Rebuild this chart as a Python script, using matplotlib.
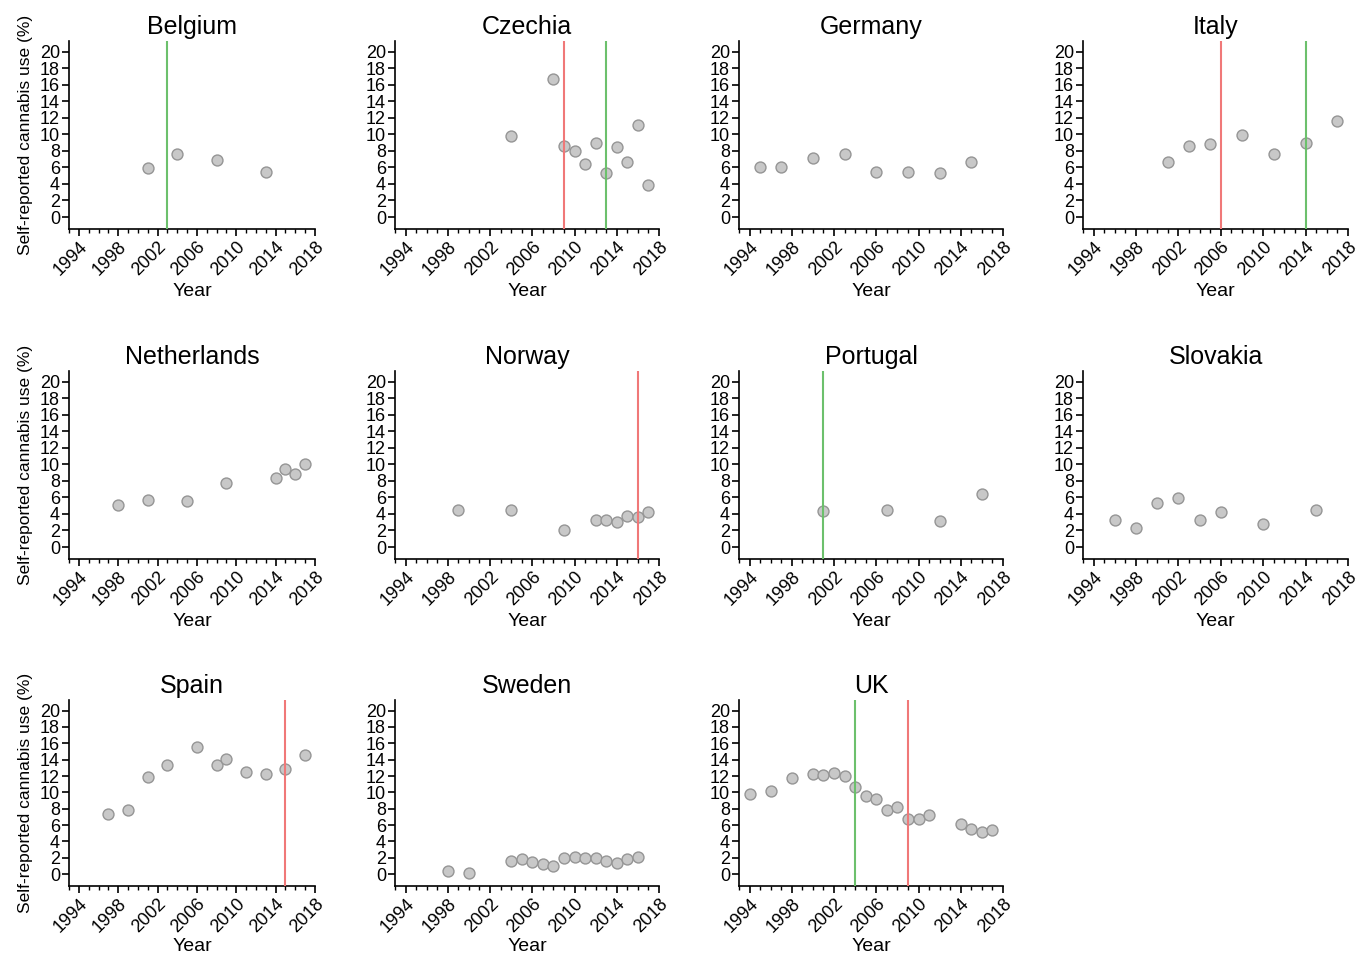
import matplotlib
matplotlib.use("Agg")
import matplotlib.pyplot as plt
from matplotlib.ticker import MultipleLocator

plt.rcParams['font.family'] = ['Liberation Sans', 'DejaVu Sans']

countries = ["Belgium", "Czechia", "Germany", "Italy",
             "Netherlands", "Norway", "Portugal", "Slovakia",
             "Spain", "Sweden", "UK"]

belgium_years = [2001, 2004, 2008, 2013]
belgium_vals = [5.9, 7.6, 6.9, 5.5]

czechia_years = [2004, 2008, 2009, 2010, 2011, 2012, 2013, 2014, 2015, 2016, 2017]
czechia_vals = [9.8, 16.7, 8.6, 8.0, 6.4, 8.9, 5.3, 8.5, 6.7, 11.1, 3.9]

germany_years = [1995, 1997, 2000, 2003, 2006, 2009, 2012, 2015]
germany_vals = [6.1, 6.0, 7.2, 7.6, 5.5, 5.4, 5.3, 6.7]

italy_years = [2001, 2003, 2005, 2008, 2011, 2014, 2017]
italy_vals = [6.6, 8.6, 8.8, 9.9, 7.6, 8.9, 11.6]

netherlands_years = [1998, 2001, 2005, 2009, 2014, 2015, 2016, 2017]
netherlands_vals = [5.1, 5.7, 5.6, 7.8, 8.4, 9.4, 8.8, 10.0]

norway_years = [1999, 2004, 2009, 2012, 2013, 2014, 2015, 2016, 2017]
norway_vals = [4.5, 4.5, 2.1, 3.3, 3.3, 3.0, 3.8, 3.6, 4.2]

portugal_years = [2001, 2007, 2012, 2016]
portugal_vals = [4.4, 4.5, 3.1, 6.4]

slovakia_years = [1996, 1998, 2000, 2002, 2004, 2006, 2010, 2015]
slovakia_vals = [3.3, 2.3, 5.3, 5.9, 3.3, 4.2, 2.8, 4.5]

spain_years = [1997, 1999, 2001, 2003, 2006, 2008, 2009, 2011, 2013, 2015, 2017]
spain_vals = [7.3, 7.9, 11.9, 13.4, 15.5, 13.4, 14.1, 12.5, 12.2, 12.9, 14.6]

sweden_years = [1998, 2000, 2004, 2005, 2006, 2007, 2008, 2009, 2010, 2011, 2012, 2013, 2014, 2015, 2016]
sweden_vals = [0.4, 0.1, 1.6, 1.8, 1.5, 1.3, 1.0, 2.0, 2.1, 2.0, 2.0, 1.6, 1.4, 1.8, 2.1]

uk_years = [1994, 1996, 1998, 2000, 2001, 2002, 2003, 2004, 2005, 2006, 2007, 2008,
            2009, 2010, 2011, 2014, 2015, 2016, 2017]
uk_vals = [9.8, 10.2, 11.7, 12.3, 12.1, 12.4, 12.0, 10.6, 9.6, 9.2, 7.8, 8.2,
           6.8, 6.8, 7.2, 6.1, 5.5, 5.2, 5.4]

# policy lines: green / red
green_lines = {"Belgium": [2003], "Czechia": [2013], "Italy": [2014],
               "Portugal": [2001], "UK": [2004]}
red_lines = {"Czechia": [2009], "Italy": [2006], "Norway": [2016],
             "Spain": [2015], "UK": [2009]}

data = {
    "Belgium": (belgium_years, belgium_vals),
    "Czechia": (czechia_years, czechia_vals),
    "Germany": (germany_years, germany_vals),
    "Italy": (italy_years, italy_vals),
    "Netherlands": (netherlands_years, netherlands_vals),
    "Norway": (norway_years, norway_vals),
    "Portugal": (portugal_years, portugal_vals),
    "Slovakia": (slovakia_years, slovakia_vals),
    "Spain": (spain_years, spain_vals),
    "Sweden": (sweden_years, sweden_vals),
    "UK": (uk_years, uk_vals),
}

W, H = 1364, 957
fig = plt.figure(figsize=(W / 100, H / 100), dpi=100)

col_x = [(69, 315), (395, 659), (739, 1003), (1083, 1348)]
row_y = [(41, 229), (371, 559), (700, 886)]

for i, c in enumerate(countries):
    r, k = divmod(i, 4)
    x0, x1 = col_x[k]
    yt, yb = row_y[r]
    ax = fig.add_axes([x0 / W, 1 - yb / H, (x1 - x0) / W, (yb - yt) / H])
    yrs, vals = data[c]
    ax.scatter(yrs, vals, s=62, facecolor="#c8c8c8", edgecolor="#959595",
               linewidths=1.0, zorder=2)
    for g in green_lines.get(c, []):
        ax.axvline(g, color="#6cc06c", lw=1.5, zorder=3)
    for rl in red_lines.get(c, []):
        ax.axvline(rl, color="#f07878", lw=1.5, zorder=3)
    ax.set_xlim(1993, 2018)
    ax.set_ylim(-1.45, 21.3)
    ax.set_xticks(range(1994, 2019, 4))
    ax.xaxis.set_minor_locator(MultipleLocator(1))
    ax.set_yticks(range(0, 21, 2))
    for s in ["top", "right"]:
        ax.spines[s].set_visible(False)
    for s in ["left", "bottom"]:
        ax.spines[s].set_linewidth(1.2)
    ax.tick_params(axis="both", which="major", direction="out", length=5,
                   width=1.2, labelsize=13, pad=1.5)
    ax.tick_params(axis="x", which="minor", direction="out", length=3, width=1.0)
    plt.setp(ax.get_xticklabels(), rotation=45, ha="right", rotation_mode="anchor")
    ax.set_title(c, fontsize=18, pad=5)
    ax.set_xlabel("Year", fontsize=14, labelpad=3 if r < 2 else 1.5)
    if k == 0:
        ax.set_ylabel("Self-reported cannabis use (%)", fontsize=12.5, labelpad=5)

fig.savefig("out.png", dpi=100)
